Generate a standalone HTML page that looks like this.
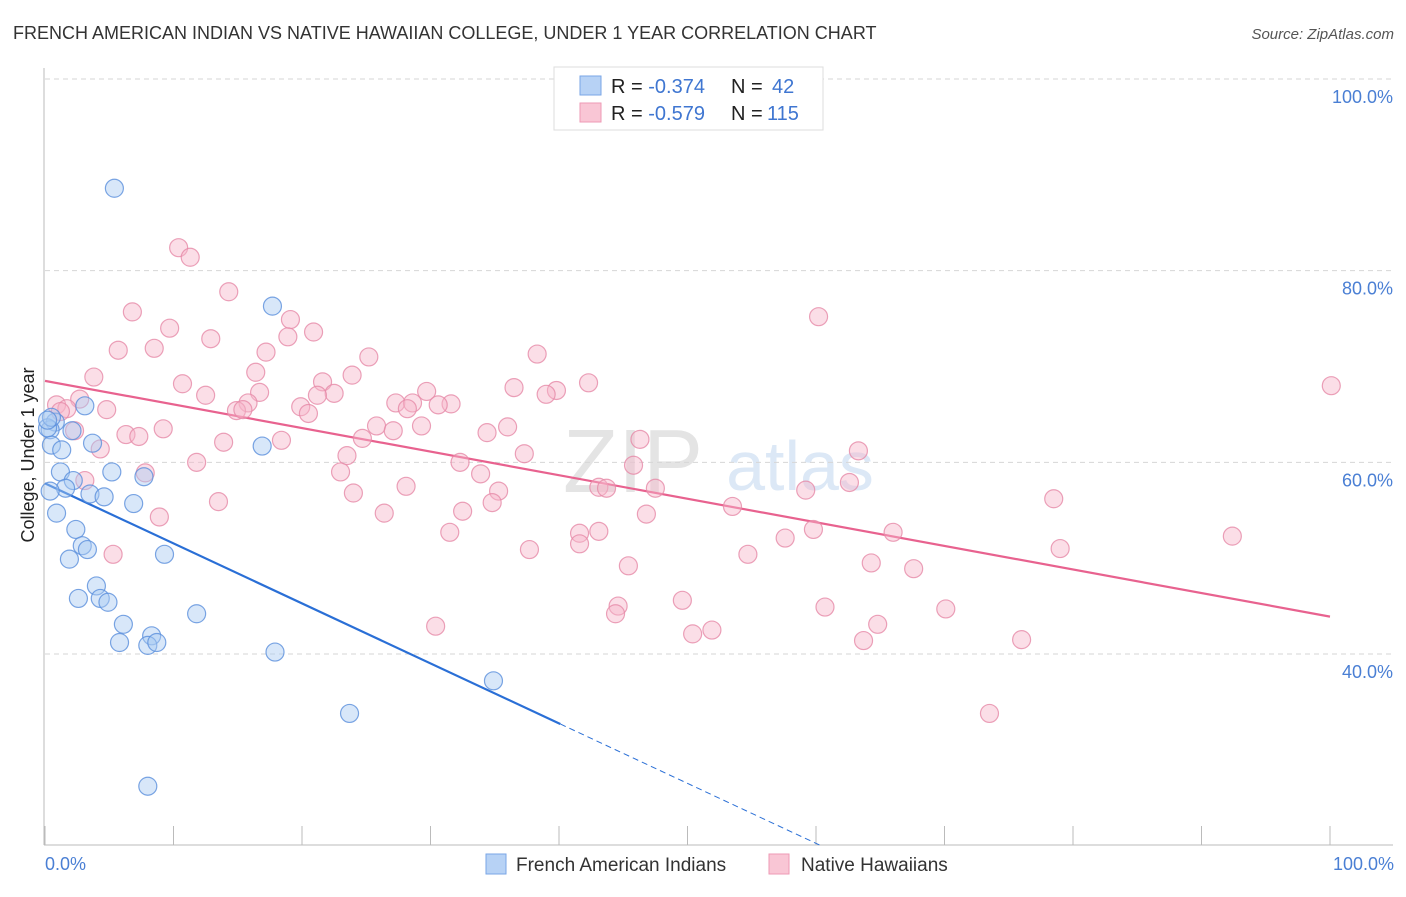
<!DOCTYPE html>
<html><head><meta charset="utf-8"><style>
body{margin:0;background:#fff;font-family:"Liberation Sans",sans-serif;}
svg text{font-family:"Liberation Sans",sans-serif;}
</style></head><body>
<svg width="1406" height="892" xmlns="http://www.w3.org/2000/svg">
<text x="13" y="39" font-size="18" fill="#333">FRENCH AMERICAN INDIAN VS NATIVE HAWAIIAN COLLEGE, UNDER 1 YEAR CORRELATION CHART</text>
<text x="1394" y="39" font-size="15" fill="#555" font-style="italic" text-anchor="end">Source: ZipAtlas.com</text>
<text x="633" y="492" font-size="90" fill="#e4e4e4" font-family="Liberation Serif" text-anchor="middle">ZIP</text>
<text x="800" y="490" font-size="70" fill="#dce8f6" text-anchor="middle">atlas</text>
<g id="grid"></g>
<g id="axes"></g>
<g id="lines"></g>
<g id="pts"></g>
<text transform="translate(34,455) rotate(-90)" font-size="18" fill="#222" text-anchor="middle">College, Under 1 year</text>
<text x="45" y="870" font-size="18" fill="#4a7fd4">0.0%</text>
<text x="1394" y="870" font-size="18" fill="#4a7fd4" text-anchor="end">100.0%</text>
<g>
<rect x="554" y="67" width="269" height="63" fill="#fff" stroke="#ddd"/>
<rect x="580" y="76" width="21" height="19" fill="#b7d2f5" stroke="#7aa6e6"/>
<rect x="580" y="103" width="21" height="19" fill="#f9c6d5" stroke="#ee9ab5"/>
<text x="611" y="93" font-size="20" fill="#222">R = <tspan fill="#3f76d1">-0.374</tspan><tspan x="731">N = </tspan><tspan x="772" fill="#3f76d1">42</tspan></text>
<text x="611" y="120" font-size="20" fill="#222">R = <tspan fill="#3f76d1">-0.579</tspan><tspan x="731">N = </tspan><tspan x="767" fill="#3f76d1">115</tspan></text>
</g>
<g>
<rect x="486" y="854" width="20" height="20" fill="#b7d2f5" stroke="#7aa6e6"/>
<text x="516" y="871" font-size="19" fill="#333">French American Indians</text>
<rect x="769" y="854" width="20" height="20" fill="#f9c6d5" stroke="#ee9ab5"/>
<text x="801" y="871" font-size="19" fill="#333">Native Hawaiians</text>
</g>
</svg>
<script>
const yTicks=[40,60,80,100];
const yTickLabels=["40.0%","60.0%","80.0%","100.0%"];
const xTicks=[0,10,20,30,40,50,60,70,80,90,100];
const blueX=[5.4,17.7,3.1,0.8,0.4,0.5,3.7,16.9,1.3,1.2,5.2,7.7,2.2,1.6,0.4,3.5,4.6,6.9,0.9,2.4,2.9,3.3,9.3,1.9,4.0,2.6,4.3,4.9,11.8,6.1,8.3,5.8,8.0,8.7,17.9,34.9,23.7,8.0,0.2,0.5,2.1,0.2];
const blueY=[88.6,76.3,65.9,64.2,63.4,61.8,62.0,61.7,61.3,59.0,59.0,58.5,58.1,57.3,57.0,56.7,56.4,55.7,54.7,53.0,51.3,50.9,50.4,49.9,47.1,45.8,45.8,45.4,44.2,43.1,41.9,41.2,40.9,41.2,40.2,37.2,33.8,26.2,63.6,64.7,63.3,64.4];
const pinkX=[10.4,11.3,14.3,6.8,60.2,19.1,9.7,20.9,18.9,12.9,8.5,5.7,17.2,38.3,25.2,16.4,3.8,23.9,10.7,42.3,100.1,36.5,21.6,16.7,12.5,29.7,22.5,39.8,39.0,21.2,19.9,27.3,28.6,31.6,30.6,15.8,2.7,14.9,15.4,4.8,0.9,1.7,1.2,20.5,28.2,25.8,27.1,29.3,36.0,34.4,6.3,7.3,9.2,46.3,13.9,18.4,2.3,4.3,63.3,24.7,23.5,11.8,32.3,45.8,37.3,33.9,7.8,3.1,62.6,43.1,43.7,47.5,28.1,35.3,24.0,59.2,78.5,13.5,34.8,53.5,26.4,32.5,8.9,46.8,31.5,41.6,43.1,59.8,66.0,41.6,57.6,92.4,37.7,54.7,79.0,5.3,64.3,45.4,67.6,49.6,44.6,44.4,60.7,70.1,30.4,51.9,50.4,64.8,76.0,63.7,73.5,23.0];
const pinkY=[82.4,81.4,77.8,75.7,75.2,74.9,74.0,73.6,73.1,72.9,71.9,71.7,71.5,71.3,71.0,69.4,68.9,69.1,68.2,68.3,68.0,67.8,68.4,67.3,67.0,67.4,67.2,67.5,67.1,67.0,65.8,66.2,66.2,66.1,66.0,66.2,66.6,65.4,65.5,65.5,66.0,65.6,65.3,65.1,65.6,63.8,63.3,63.8,63.7,63.1,62.9,62.7,63.5,62.4,62.1,62.3,63.3,61.4,61.2,62.5,60.7,60.0,60.0,59.7,60.9,58.8,58.9,58.1,57.9,57.4,57.3,57.3,57.5,57.0,56.8,57.1,56.2,55.9,55.8,55.4,54.7,54.9,54.3,54.6,52.7,52.6,52.8,53.0,52.7,51.5,52.1,52.3,50.9,50.4,51.0,50.4,49.5,49.2,48.9,45.6,45.0,44.2,44.9,44.7,42.9,42.5,42.1,43.1,41.5,41.4,33.8,59.0];
const blueTrend=[57.8,-0.626];
const pinkTrend=[68.5,-0.246];
const blueSolidEnd=40.1;
const NS="http://www.w3.org/2000/svg";
const sx=v=>45+v*12.85;
const sy=v=>654-(v-40)*9.583;
function mk(tag,attrs,parent){const e=document.createElementNS(NS,tag);for(const k in attrs)e.setAttribute(k,attrs[k]);parent.appendChild(e);return e;}
const grid=document.getElementById('grid'),axes=document.getElementById('axes'),lines=document.getElementById('lines'),pts=document.getElementById('pts');
yTicks.forEach((t,i)=>{
 const l=mk('line',{x1:45,x2:1393,y1:sy(t),y2:sy(t),stroke:'#d6d6d6','stroke-dasharray':'5,4'},grid);
 
 
 const tx=mk('text',{x:1393,y:sy(t)+24,'font-size':18,fill:'#4a7fd4','text-anchor':'end'},grid);
 tx.textContent=yTickLabels[i];
 
 
});
const ya=mk('line',{x1:44,x2:44,y1:68,y2:845,stroke:'#bbb'},axes);


const xa=mk('line',{x1:44,x2:1393,y1:845,y2:845,stroke:'#bbb'},axes);


xTicks.forEach(t=>{
 const l=mk('line',{x1:sx(t),x2:sx(t),y1:826,y2:845,stroke:'#bbb'},axes);
 
 
});
function circ(x,y,fill,stroke,name){
 const c=mk('circle',{cx:sx(x),cy:sy(y),r:9,fill:fill,'fill-opacity':0.45,stroke:stroke,'stroke-opacity':0.8,'stroke-width':1.2},pts);
 
 
}
pinkX.forEach((x,i)=>circ(x,pinkY[i],'#f7b6ca','#e68aa8','point-native-hawaiian'));
blueX.forEach((x,i)=>circ(x,blueY[i],'#a9c9f2','#5a8fdc','point-french-american-indian'));
const pl=mk('line',{x1:sx(0),y1:sy(pinkTrend[0]),x2:sx(100),y2:sy(pinkTrend[0]+pinkTrend[1]*100),stroke:'#e8628f','stroke-width':2.2},lines);


const bl=mk('line',{x1:sx(0),y1:sy(blueTrend[0]),x2:sx(blueSolidEnd),y2:sy(blueTrend[0]+blueTrend[1]*blueSolidEnd),stroke:'#2a6fd6','stroke-width':2.2},lines);


const xe=(20-blueTrend[0])/blueTrend[1];
const bd=mk('line',{x1:sx(blueSolidEnd),y1:sy(blueTrend[0]+blueTrend[1]*blueSolidEnd),x2:sx(xe),y2:sy(20),stroke:'#2a6fd6','stroke-width':1,'stroke-dasharray':'6,4'},lines);


</script>
</body></html>
